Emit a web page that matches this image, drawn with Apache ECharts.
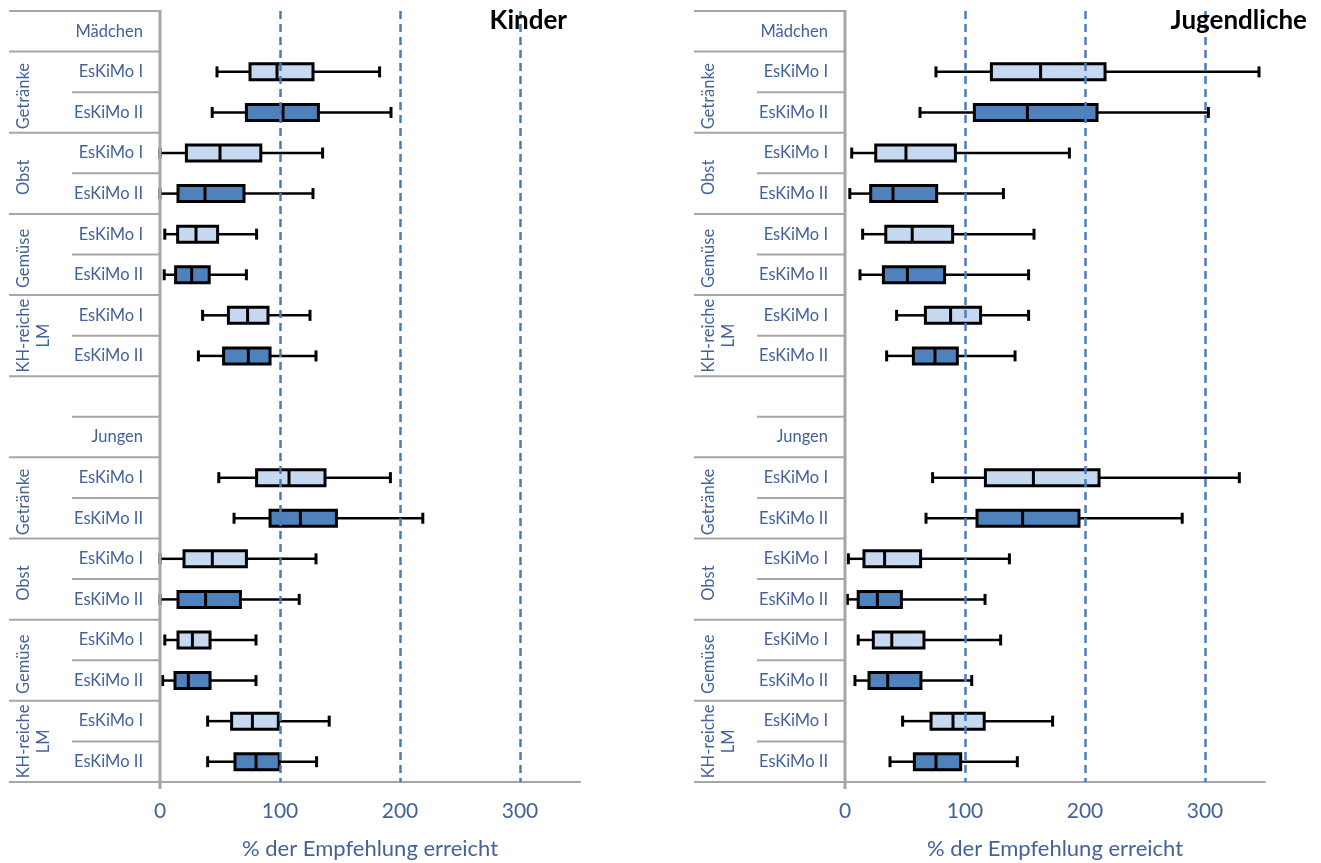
<!DOCTYPE html>
<html>
<head>
<meta charset="utf-8">
<script src="https://cdn.jsdelivr.net/npm/echarts@6/dist/echarts.min.js"></script>
<style>
html,body{margin:0;padding:0;background:#fff;}
#chart{width:1321px;height:863px;}
</style>
</head>
<body>
<div id="chart"></div>
<script>
// ---------- data ----------
const panelTitles = ['Kinder', 'Jugendliche'];
const rowLabels = ['Mädchen', 'EsKiMo I', 'EsKiMo II', 'EsKiMo I', 'EsKiMo II', 'EsKiMo I', 'EsKiMo II', 'EsKiMo I', 'EsKiMo II',
                   '', 'Jungen', 'EsKiMo I', 'EsKiMo II', 'EsKiMo I', 'EsKiMo II', 'EsKiMo I', 'EsKiMo II', 'EsKiMo I', 'EsKiMo II'];
const groupLabels = ['Getränke', 'Obst', 'Gemüse', 'KH-reiche\nLM'];
const groupRows = [[1, 3], [3, 5], [5, 7], [7, 9], [11, 13], [13, 15], [15, 17], [17, 19]]; // row boundaries
const groupNames = [0, 1, 2, 3, 0, 1, 2, 3];
const boxRows = [1, 2, 3, 4, 5, 6, 7, 8, 11, 12, 13, 14, 15, 16, 17, 18];
const boxStudy = [0, 1, 0, 1, 0, 1, 0, 1, 0, 1, 0, 1, 0, 1, 0, 1]; // 0 = EsKiMo I, 1 = EsKiMo II
const xTicks = [0, 100, 200, 300];
const refLines = [100, 200, 300];

// [min, Q1, median, Q3, max]
const kinderStats = [
  [47.5, 75, 97.5, 127.5, 183],
  [43.5, 72, 102.5, 132, 192.5],
  [0, 22, 50, 84, 135.5],
  [0, 15, 37.5, 70, 127.5],
  [4, 14.7, 30, 48, 80.5],
  [3.5, 13, 26.4, 41, 72],
  [35.5, 57, 73, 90, 125],
  [32, 53, 73.6, 91.7, 130],
  [49, 80.5, 107.5, 137.5, 192],
  [61.7, 91.7, 117, 147, 219],
  [0, 20, 43.6, 72, 130],
  [0, 15, 38, 67, 116],
  [4, 15, 27, 41.7, 80],
  [2.2, 12.5, 23.6, 41.7, 80],
  [39.7, 59.7, 77, 98.6, 141],
  [39.7, 62.5, 80, 99.4, 130.5]
];
const jugendStats = [
  [75.8, 122, 163, 216.7, 345],
  [62.5, 107.8, 152, 210, 302.8],
  [5.6, 25.6, 50.8, 92, 187],
  [4, 21.4, 40, 76.4, 132],
  [14.7, 34, 56, 89.7, 157.5],
  [12.5, 32, 52, 83, 153],
  [43, 67, 88, 113, 153],
  [34.7, 57, 75, 93.6, 141.7],
  [73, 117, 157, 211.7, 328.6],
  [67.5, 110, 148, 195, 281],
  [2.8, 15.8, 33, 63, 137],
  [2, 11, 27, 47, 116.7],
  [11, 23.6, 39, 65.8, 129.7],
  [8.3, 20, 35.6, 63.3, 105.6],
  [48, 71.7, 90, 116, 173],
  [37.5, 57.8, 75.8, 96.4, 143.6]
];

// ---------- style ----------
const FONT = 'Lato, "Noto Sans", sans-serif';
const TXT = '#44629a';
const GREY = '#a6a6a6';
const FILLS = ['#c6d9f1', '#4f81bd'];

function buildData(stats) {
  return stats.map((s, i) => [boxRows[i], s[0], s[1], s[2], s[3], s[4], boxStudy[i]]);
}

function renderBox(params, api) {
  const y = api.value(0);
  const lo = api.coord([api.value(1), y]);
  const q1 = api.coord([api.value(2), y]);
  const md = api.coord([api.value(3), y]);
  const q3 = api.coord([api.value(4), y]);
  const hi = api.coord([api.value(5), y]);
  const fill = FILLS[api.value(6)];
  const cy = lo[1];
  const bh = 16, ch = 11;
  const ws = {stroke: '#000', lineWidth: 2.5};
  const cs = {stroke: '#000', lineWidth: 3};
  return {
    type: 'group',
    children: [
      {type: 'line', shape: {x1: lo[0], y1: cy, x2: q1[0], y2: cy}, style: ws},
      {type: 'line', shape: {x1: q3[0], y1: cy, x2: hi[0], y2: cy}, style: ws},
      {type: 'line', shape: {x1: lo[0], y1: cy - ch / 2, x2: lo[0], y2: cy + ch / 2}, style: cs},
      {type: 'line', shape: {x1: hi[0], y1: cy - ch / 2, x2: hi[0], y2: cy + ch / 2}, style: cs},
      {type: 'rect', shape: {x: q1[0], y: cy - bh / 2, width: q3[0] - q1[0], height: bh},
       style: {fill: fill, stroke: '#000', lineWidth: 3}},
      {type: 'line', shape: {x1: md[0], y1: cy - bh / 2, x2: md[0], y2: cy + bh / 2}, style: cs}
    ]
  };
}

const grids = [
  {left: 160, top: 11, width: 420, height: 771, outerBoundsMode: 'none', containLabel: false},
  {left: 845, top: 11, width: 420, height: 771, outerBoundsMode: 'none', containLabel: false}
];

const chart = echarts.init(document.getElementById('chart'), null, {renderer: 'canvas'});

const xAxes = grids.map((g, i) => ({
  type: 'value', gridIndex: i, min: 0, max: 350, interval: 100,
  axisLine: {show: true, lineStyle: {color: GREY, width: 2}},
  axisTick: {show: false},
  splitLine: {show: false},
  axisLabel: {color: TXT, fontSize: 21, fontFamily: FONT, margin: 19, showMaxLabel: false,
              formatter: v => (xTicks.indexOf(v) >= 0 ? String(v) : '')},
  name: '% der Empfehlung erreicht', nameLocation: 'middle', nameGap: 56,
  nameTextStyle: {color: TXT, fontSize: 22, fontFamily: FONT}
}));

const yAxes = grids.map((g, i) => ({
  type: 'category', gridIndex: i, data: rowLabels, inverse: true,
  axisLine: {show: false}, axisTick: {show: false}, splitLine: {show: false},
  axisLabel: {color: TXT, fontSize: 16.5, fontFamily: FONT, margin: 17, interval: 0}
}));

const series = [kinderStats, jugendStats].map((st, i) => ({
  type: 'custom', xAxisIndex: i, yAxisIndex: i,
  renderItem: renderBox,
  encode: {x: [1, 2, 3, 4, 5], y: 0},
  data: buildData(st),
  z: 3,
  markLine: {
    silent: true, symbol: ['none', 'none'], label: {show: false},
    lineStyle: {color: '#4a7ebb', type: [8, 5], width: 2.5},
    data: refLines.map(v => ({xAxis: v}))
  }
}));

chart.setOption({
  animation: false,
  grid: grids,
  xAxis: xAxes,
  yAxis: yAxes,
  series: series
});

// ---------- label-area decorations from axis geometry ----------
function decorations() {
  const els = [];
  grids.forEach((g, p) => {
    const ax = chart.convertToPixel({xAxisIndex: p}, 0);
    const c0 = chart.convertToPixel({yAxisIndex: p}, 0);
    const c1 = chart.convertToPixel({yAxisIndex: p}, 1);
    const band = c1 - c0;
    const top = c0 - band / 2;
    const bY = k => top + k * band;
    const n = rowLabels.length;
    for (let k = 0; k <= n; k++) {
      const full = (k === 0 || k % 2 === 1 || k === n);
      const x1 = full ? ax - 151 : ax - 88;
      els.push({type: 'line', z: 20, silent: true,
        shape: {x1: x1, y1: bY(k), x2: ax, y2: bY(k)},
        style: {stroke: GREY, lineWidth: 2}});
    }
    // vertical axis line
    els.push({type: 'line', z: 21, silent: true,
      shape: {x1: ax, y1: bY(0) - 1, x2: ax, y2: bY(n) + 7},
      style: {stroke: GREY, lineWidth: 3}});
    // group labels (rotated)
    groupRows.forEach((r, j) => {
      const txt = groupLabels[groupNames[j]];
      const two = txt.indexOf('\n') >= 0;
      const cy = (bY(r[0]) + bY(r[1])) / 2 + (two ? 0 : 4);
      els.push({type: 'text', z: 20, silent: true,
        x: ax - (two ? 126 : 136.5), y: cy, rotation: Math.PI / 2,
        style: {text: txt, fill: TXT, font: '16.5px ' + FONT, textAlign: 'center',
                textVerticalAlign: 'middle', lineHeight: 20}});
    });
    // panel title
    els.push({type: 'text', z: 20, silent: true,
      x: p === 0 ? 567 : 1307, y: 21,
      style: {text: panelTitles[p], fill: '#000', font: 'bold 26px ' + FONT,
              textAlign: 'right', textVerticalAlign: 'middle'}});
  });
  chart.setOption({graphic: {elements: els}});
}
decorations();
</script>
</body>
</html>
